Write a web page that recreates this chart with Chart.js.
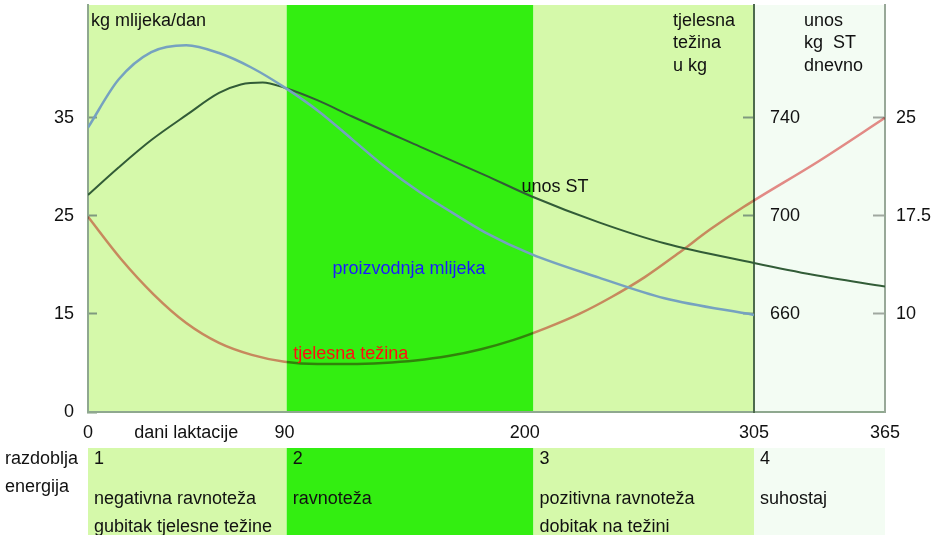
<!DOCTYPE html>
<html>
<head>
<meta charset="utf-8">
<script src="https://cdn.jsdelivr.net/npm/chart.js@4/dist/chart.umd.min.js"></script>
<style>
  html, body { margin: 0; padding: 0; background: #fff; }
  #c { display: block; }
</style>
</head>
<body>
<canvas id="c" width="940" height="535"></canvas>
<script>
/* laktacijska krivulja — mlijeko, unos ST, tjelesna težina */

var DAYS_MILK = [0, 14, 29, 45, 60, 75, 90, 106, 121, 136, 152, 167, 182, 203, 234, 264, 305];
var MILK_KG   = [34.0, 38.9, 41.7, 42.4, 41.6, 40.1, 38.1, 35.6, 32.8, 30.0, 27.4, 25.3, 23.3, 21.1, 18.7, 16.6, 14.9];

var DAYS_DM = [0, 14, 29, 45, 60, 70, 80, 90, 105, 121, 152, 182, 203, 234, 264, 305, 332, 365];
var DM_KG   = [19.1, 21.2, 23.3, 25.2, 26.9, 27.55, 27.7, 27.3, 26.35, 25.1, 22.8, 20.6, 19.0, 17.0, 15.4, 13.9, 13.0, 12.1];

var DAYS_BW     = [0, 15, 30, 45, 60, 75, 90, 105, 120, 135, 150, 165, 180, 195, 210, 225, 240, 255, 270, 285, 300, 335, 365];
var BODY_WEIGHT = [699.6, 682.5, 668, 656.3, 648.2, 643.3, 640.5, 639.6, 639.6, 640, 641, 642.8, 645.6, 649.4, 654.3, 660, 667, 675, 684.5, 694.5, 703.5, 722.5, 740];

var X_TICKS  = [0, 45, 90, 200, 305, 365];
var X_LABELS = ['0', 'dani laktacije', '90', '200', '305', '365'];
var MILK_TICKS  = [5, 15, 25, 35];
var MILK_LABELS = ['0', '15', '25', '35'];
var BW_TICKS = [660, 700, 740];
var DM_TICKS = [10, 17.5, 25];

var BAND_EDGES  = [0, 91, 204, 305, 365];
var BAND_COLORS = ['#d5f9aa', '#33ee11', '#d5f9aa', '#f3fcf3'];

var PHASE_NUM   = ['1', '2', '3', '4'];
var PHASE_LINE1 = ['negativna ravnoteža', 'ravnoteža', 'pozitivna ravnoteža', 'suhostaj'];
var PHASE_LINE2 = ['gubitak tjelesne težine', '', 'dobitak na težini', ''];

var NOTE_TEXT  = ['unos ST', 'proizvodnja mlijeka', 'tjelesna težina'];
var NOTE_DAY   = [198.5, 112, 94];
var NOTE_MILK  = [27.9, 19.6, 10.9];
var NOTE_COLOR = ['#111111', '#1a1aff', '#ff1010'];

var FONT = "'Liberation Sans', Arial, Helvetica, sans-serif";

function pts(xs, ys) {
  return xs.map(function (x, i) { return { x: x, y: ys[i] }; });
}
function fixTicks(list) {
  return function (s) { s.ticks = list.map(function (v) { return { value: v }; }); };
}
function noPad(s) { s.paddingTop = 0; s.paddingBottom = 0; s.paddingLeft = 0; s.paddingRight = 0; }

/* pozadinske trake + tablica razdoblja ispod grafa */
var bands = {
  id: 'bands',
  beforeDraw: function (chart) {
    var ctx = chart.ctx, a = chart.chartArea, xs = chart.scales.x;
    ctx.save();
    for (var i = 0; i < BAND_COLORS.length; i++) {
      var x0 = xs.getPixelForValue(BAND_EDGES[i]);
      var x1 = xs.getPixelForValue(BAND_EDGES[i + 1]);
      ctx.fillStyle = BAND_COLORS[i];
      ctx.fillRect(x0, a.top, x1 - x0, a.bottom - a.top);
      ctx.fillRect(x0, 448, x1 - x0, 535 - 448);
    }
    ctx.restore();
  },
  beforeDatasetDraw: function (chart, args) {
    if (args.index === 2) { chart.ctx.save(); chart.ctx.globalCompositeOperation = 'multiply'; }
  },
  afterDatasetDraw: function (chart, args) {
    if (args.index === 2) chart.ctx.restore();
  },
  afterDraw: function (chart) {
    var ctx = chart.ctx, xs = chart.scales.x, ys = chart.scales.yMilk, yw = chart.scales.yBW;
    ctx.save();
    ctx.font = '18px ' + FONT;
    ctx.textBaseline = 'middle';
    ctx.textAlign = 'left';
    ctx.fillStyle = '#111';

    ctx.fillText('kg mlijeka/dan', 91, 21);
    ['tjelesna', 'težina', 'u kg'].forEach(function (t, i) { ctx.fillText(t, 673, 21 + i * 22.5); });
    ['unos', 'kg  ST', 'dnevno'].forEach(function (t, i) { ctx.fillText(t, 804, 21 + i * 22.5); });

    /* oznake srednje osi (tjelesna težina) desno od crte na 305. danu */
    var xw = xs.getPixelForValue(305) + 16;
    BW_TICKS.forEach(function (v) { ctx.fillText(String(v), xw, yw.getPixelForValue(v)); });

    NOTE_TEXT.forEach(function (t, i) {
      ctx.fillStyle = NOTE_COLOR[i];
      ctx.fillText(t, xs.getPixelForValue(NOTE_DAY[i]), ys.getPixelForValue(NOTE_MILK[i]));
    });

    ctx.fillStyle = '#111';
    ctx.fillText('razdoblja', 5, 459);
    ctx.fillText('energija', 5, 487);
    for (var i = 0; i < PHASE_NUM.length; i++) {
      var x0 = xs.getPixelForValue(BAND_EDGES[i]) + 6;
      ctx.fillText(PHASE_NUM[i], x0, 459);
      ctx.fillText(PHASE_LINE1[i], x0, 499);
      ctx.fillText(PHASE_LINE2[i], x0, 527);
    }
    ctx.restore();
  }
};

var tickFont = { family: FONT, size: 18 };

new Chart(document.getElementById('c'), {
  type: 'line',
  data: {
    datasets: [
      { label: 'proizvodnja mlijeka', data: pts(DAYS_MILK, MILK_KG), yAxisID: 'yMilk',
        borderColor: 'rgb(118,162,192)', borderWidth: 2.5, pointRadius: 0, cubicInterpolationMode: 'monotone' },
      { label: 'unos ST', data: pts(DAYS_DM, DM_KG), yAxisID: 'yDM',
        borderColor: 'rgb(50,92,55)', borderWidth: 2, pointRadius: 0, cubicInterpolationMode: 'monotone' },
      { label: 'tjelesna težina', data: pts(DAYS_BW, BODY_WEIGHT), yAxisID: 'yBW',
        borderColor: 'rgb(238,140,140)', borderWidth: 2.5, pointRadius: 0, cubicInterpolationMode: 'monotone' }
    ]
  },
  options: {
    responsive: false,
    animation: false,
    layout: { padding: { top: 5, left: 0, right: 0, bottom: 0 } },
    plugins: { legend: { display: false }, tooltip: { enabled: false } },
    scales: {
      x: {
        type: 'linear', position: 'bottom', min: 0, max: 365,
        afterBuildTicks: fixTicks(X_TICKS),
        afterFit: function (s) { s.height = 123; noPad(s); },
        grid: { drawOnChartArea: false, drawTicks: false },
        border: { color: '#8fa88f', width: 2 },
        ticks: { autoSkip: false, maxRotation: 0, padding: 10, color: '#111', font: tickFont,
          callback: function (v) { return X_LABELS[X_TICKS.indexOf(v)]; } }
      },
      yMilk: {
        type: 'linear', position: 'left', min: 5, max: 46.5,
        afterBuildTicks: fixTicks(MILK_TICKS),
        afterFit: function (s) { s.width = 88; noPad(s); },
        grid: { drawOnChartArea: false, drawTicks: true, tickLength: -9, tickColor: '#7f9a7f', tickWidth: 2 },
        border: { color: '#8fa88f', width: 2 },
        ticks: { padding: 23, color: '#111', font: tickFont,
          callback: function (v) { return MILK_LABELS[MILK_TICKS.indexOf(v)]; } }
      },
      yBW: {
        type: 'linear', position: { x: 305 }, min: 620, max: 786,
        afterBuildTicks: fixTicks(BW_TICKS),
        afterFit: function (s) { s.width = 0; noPad(s); },
        grid: { drawOnChartArea: false, drawTicks: true, tickLength: 10, tickColor: '#7f9a7f', tickWidth: 2 },
        border: { color: '#4d6b4d', width: 2 },
        ticks: { display: false }
      },
      yDM: {
        type: 'linear', position: 'right', min: 2.5, max: 33.625,
        afterBuildTicks: fixTicks(DM_TICKS),
        afterFit: function (s) { s.width = 55; noPad(s); },
        grid: { drawOnChartArea: false, drawTicks: true, tickLength: -12, tickColor: '#a0a8a0', tickWidth: 2 },
        border: { color: '#98a898', width: 2 },
        ticks: { padding: 23, color: '#111', font: tickFont }
      }
    }
  },
  plugins: [bands]
});
</script>
</body>
</html>
